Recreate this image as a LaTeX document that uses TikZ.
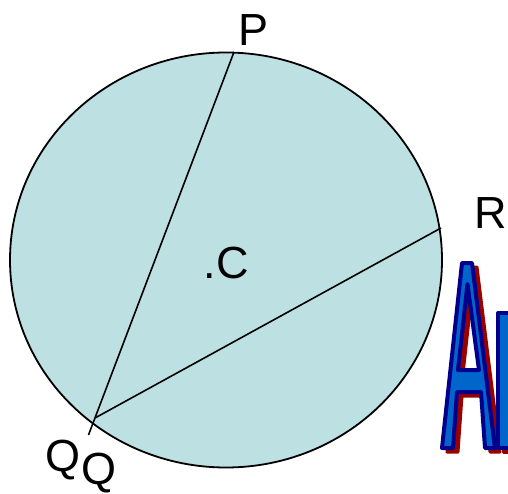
\documentclass[tikz,border=0pt]{standalone}
\usepackage{fontspec}
\setmainfont{Liberation Sans}
\definecolor{disc}{RGB}{189,224,227}
\definecolor{wablue}{RGB}{0,102,204}
\definecolor{wanavy}{RGB}{0,0,140}
\definecolor{wared}{RGB}{153,0,0}
\tikzset{
  lbl/.style={font=\fontsize{45}{45}\selectfont, inner sep=0pt, anchor=base},
  chord/.style={line width=1.6pt, black},
  rim/.style={line width=1.8pt, draw=black, fill=disc},
  waface/.style={fill=wablue, draw=wanavy, line width=4pt, line join=round, even odd rule},
  washadow/.style={fill=wared, draw=wared, line width=3pt, line join=round, even odd rule}
}
\begin{document}
\begin{tikzpicture}[x=1pt,y=-1pt]
\useasboundingbox (0,0) rectangle (508,494);
\clip (0,0) rectangle (508,494);
% circle
\draw[rim] (226,260) ellipse [x radius=216, y radius=207.5];
% points
\coordinate (P) at (234,52);
\coordinate (Qend) at (88.5,435);
\coordinate (R) at (441,228);
\coordinate (Q) at (95,418);
\draw[chord] (P) -- (Qend);
\draw[chord] (R) -- (Q);
% labels
\node[lbl] (lP) at (254,46) {P};
\node[lbl] (lR) at (491,229) {R};
\node[lbl] (lC) at (226,278) {.C};
\node[lbl] (lQ1) at (63,471) {Q};
\node[lbl] (lQ2) at (99,484) {Q};
% WordArt "Ar" (shadow)
\begin{scope}[shift={(5,4)}]
\path[washadow] (462,263) -- (472,263) -- (495,448) -- (485,448) -- (481,392) -- (457,392) -- (453,448) -- (442,448) -- cycle
  (467.5,284) -- (479,370) -- (458,370) -- cycle;
\path[washadow] (498,313) -- (515,313) -- (515,448) -- (498,448) -- cycle;
\end{scope}
% WordArt "Ar" (face)
\path[waface] (462,263) -- (472,263) -- (495,448) -- (485,448) -- (481,392) -- (457,392) -- (453,448) -- (442,448) -- cycle
  (467.5,284) -- (479,370) -- (458,370) -- cycle;
\path[waface] (498,313) -- (515,313) -- (515,448) -- (498,448) -- cycle;
\end{tikzpicture}
\end{document}
